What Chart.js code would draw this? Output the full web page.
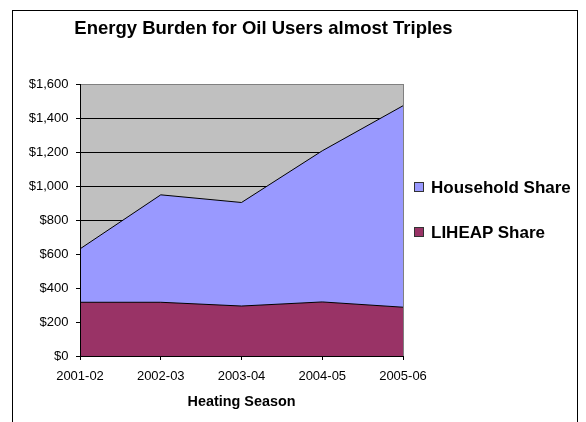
<!DOCTYPE html>
<html>
<head>
<meta charset="utf-8">
<script src="https://cdn.jsdelivr.net/npm/chart.js@4/dist/chart.umd.min.js"></script>
<style>
  html, body { margin: 0; padding: 0; background: #fff; width: 586px; height: 422px; overflow: hidden; }
  #frame { position: absolute; left: 12px; top: 10px; width: 564px; height: 430px; border: 1px solid #000; background: #fff; }
  #c { position: absolute; left: 0; top: 0; }
  #title { position: absolute; left: 0; top: 18.6px; width: 527px; text-align: center; font-family: "Liberation Sans", Arial, sans-serif; font-weight: bold; font-size: 18.5px; line-height: 18.5px; color: #000; white-space: nowrap; }
  .leg { position: absolute; font-family: "Liberation Sans", Arial, sans-serif; font-weight: bold; font-size: 17px; line-height: 17px; color: #000; white-space: nowrap; }
  .sw { position: absolute; width: 10px; height: 10px; box-sizing: border-box; border: 1px solid #333; }
</style>
</head>
<body>
<div id="frame"></div>
<canvas id="c" width="527" height="422"></canvas>
<div id="title"></div>
<div class="sw" id="sw0" style="left:414px;top:182px;"></div>
<div class="leg" id="lg0" style="left:431px;top:179px;"></div>
<div class="sw" id="sw1" style="left:414px;top:227px;"></div>
<div class="leg" id="lg1" style="left:431px;top:224px;"></div>
<script>
const chartTitle = 'Energy Burden for Oil Users almost Triples';
const xAxisTitle = 'Heating Season';
const seasons = ['2001-02', '2002-03', '2003-04', '2004-05', '2005-06'];
const liheapShare = [316, 316, 294, 318, 287];
const householdShare = [314, 632, 609, 889, 1185];
const seriesNames = ['LIHEAP Share', 'Household Share'];
const yMin = 0, yMax = 1600, yStep = 200;

const FONT = '"Liberation Sans", Arial, sans-serif';
const colors = { liheap: '#993366', household: '#9999FF', plot: '#C0C0C0', plotBorder: '#808080' };

document.getElementById('title').textContent = chartTitle;
// HTML legend (Household first, as in reference)
document.getElementById('sw0').style.background = colors.household;
document.getElementById('lg0').textContent = seriesNames[1];
document.getElementById('sw1').style.background = colors.liheap;
document.getElementById('lg1').textContent = seriesNames[0];

const plotBg = {
  id: 'plotBg',
  beforeDraw(chart) {
    const { ctx, chartArea: a } = chart;
    ctx.save();
    ctx.fillStyle = colors.plot;
    ctx.fillRect(a.left, a.top, a.right - a.left, a.bottom - a.top);
    ctx.restore();
  },
  afterDatasetsDraw(chart) {
    const { ctx, chartArea: a } = chart;
    ctx.save();
    ctx.strokeStyle = colors.plotBorder;
    ctx.lineWidth = 1;
    const x = Math.round(a.right) + 0.5;
    ctx.beginPath();
    ctx.moveTo(x, a.top);
    ctx.lineTo(x, a.bottom);
    ctx.stroke();
    ctx.restore();
  }
};

new Chart(document.getElementById('c'), {
  type: 'line',
  data: {
    labels: seasons,
    datasets: [
      { label: seriesNames[0], data: liheapShare, backgroundColor: colors.liheap, borderColor: '#000', borderWidth: 1, fill: 'origin', pointRadius: 0, tension: 0 },
      { label: seriesNames[1], data: householdShare, backgroundColor: colors.household, borderColor: '#000', borderWidth: 1, fill: '-1', pointRadius: 0, tension: 0 }
    ]
  },
  options: {
    responsive: false,
    animation: false,
    devicePixelRatio: 1,
    layout: { padding: { left: 0, right: 124, top: 84, bottom: 0 } },
    plugins: {
      legend: { display: false },
      tooltip: { enabled: false },
      title: { display: false }
    },
    scales: {
      x: {
        offset: false,
        grid: { drawOnChartArea: false, drawTicks: true, tickLength: 4, color: '#000' },
        border: { color: '#000', z: 1 },
        ticks: { color: '#000', font: { family: FONT, size: 13 }, padding: 9, maxRotation: 0, autoSkip: false },
        title: { display: true, text: xAxisTitle, color: '#000', font: { family: FONT, size: 14.4, weight: 'bold' }, padding: { top: 0, bottom: 11.7 } },
        afterFit: s => { s.height = 66; }
      },
      y: {
        stacked: true,
        min: yMin,
        max: yMax,
        grid: {
          color: ctx => (ctx.tick && ctx.tick.value === yMax) ? colors.plotBorder : '#000',
          tickColor: '#000',
          tickLength: 4,
          lineWidth: 1
        },
        border: { color: '#000', z: 1 },
        ticks: {
          stepSize: yStep,
          color: '#000',
          font: { family: FONT, size: 13 },
          padding: 7.5,
          callback: v => '$' + Number(v).toLocaleString('en-US')
        },
        afterFit: s => { s.width = 80; }
      }
    }
  },
  plugins: [plotBg]
});
</script>
</body>
</html>
